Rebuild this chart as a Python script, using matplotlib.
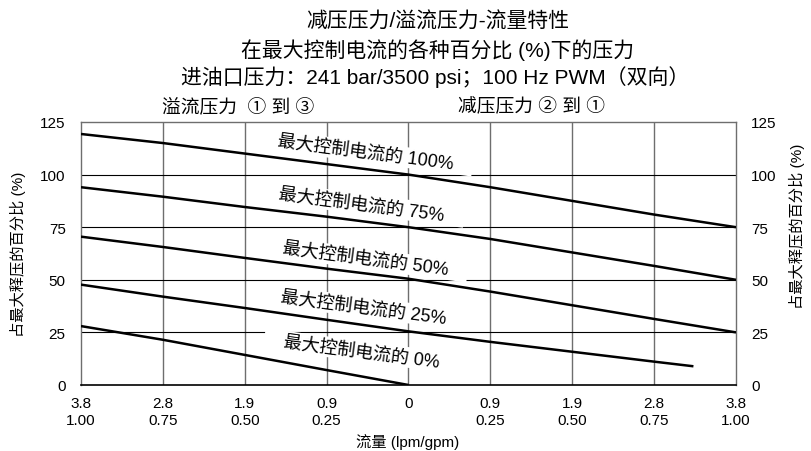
import matplotlib
matplotlib.use('Agg')
import matplotlib.pyplot as plt

plt.rcParams['font.family'] = ['Liberation Sans', 'Noto Sans CJK SC', 'DejaVu Sans']

# 横轴：左侧为溢流（③方向），右侧为减压（①方向），0 在中间
x_pos = [-4, -3, -2, -1, 0, 1, 2, 3, 4]
x_labels = ['3.8\n1.00', '2.8\n0.75', '1.9\n0.50', '0.9\n0.25', '0',
            '0.9\n0.25', '1.9\n0.50', '2.8\n0.75', '3.8\n1.00']
y_ticks = [0, 25, 50, 75, 100, 125]

# 各控制电流百分比下的压力曲线（占最大释压的百分比）
x_100 = [-4, -3, -2, -1, 0, 1, 2, 3, 4]
p_100 = [119.3, 115, 110, 105, 100, 94, 87.5, 81, 75]
x_75 = [-4, -3, -2, -1, 0, 1, 2, 3, 4]
p_75 = [94, 89.5, 84.6, 80, 75, 69.4, 63, 56.6, 50]
x_50 = [-4, -3, -2, -1, 0, 1, 2, 3, 4]
p_50 = [70.5, 65.6, 60.4, 55.3, 50.5, 44.4, 37.9, 31.4, 25]
x_25 = [-4, -3, -2, -1, 0, 1, 2, 3, 3.48]
p_25 = [47.7, 42, 36.6, 31, 25.5, 20.5, 15.8, 11.1, 8.9]
x_0 = [-4, -3, -2, -1, 0]
p_0 = [28, 21.5, 14.3, 7.1, 0]

curves = [(x_100, p_100), (x_75, p_75), (x_50, p_50), (x_25, p_25), (x_0, p_0)]
curve_labels = ['最大控制电流的 100%', '最大控制电流的 75%', '最大控制电流的 50%',
                '最大控制电流的 25%', '最大控制电流的 0%']
label_xy = [(-0.53, 110.7), (-0.57, 86), (-0.53, 60), (-0.55, 37), (-0.57, 16)]

fig = plt.figure(figsize=(8.11, 4.52), dpi=100)
ax = fig.add_axes([81 / 811, 66 / 452, 655 / 811, 263 / 452])

# 网格：竖线灰色，横线黑色细线
for xv in x_pos[1:-1]:
    ax.axvline(xv, color='#6e6e6e', lw=1.0, zorder=1)
for yv in y_ticks[1:-1]:
    ax.axhline(yv, color='black', lw=0.8, zorder=1)

for (xs, ps) in curves:
    ax.plot(xs, ps, color='black', lw=1.8, zorder=4, solid_capstyle='butt')

# 曲线标注带白底，遮住下面的网格线
for txt, (lx, ly) in zip(curve_labels, label_xy):
    ax.text(lx, ly, '\u3000' + txt + '\u3000', rotation=-7.5, ha='center', va='center',
            fontsize=13, rotation_mode='anchor', zorder=3,
            bbox=dict(boxstyle='square,pad=0.1', fc='white', ec='none'))

ax.set_xlim(-4, 4)
ax.set_ylim(0, 125)
ax.set_xticks(x_pos)
ax.set_xticklabels(x_labels, fontsize=11, linespacing=1.3)
ax.set_yticks(y_ticks)
ax.tick_params(axis='both', length=0, labelsize=11)
ax.tick_params(axis='x', pad=8)
ax.tick_params(axis='y', pad=11, labelright=True)

for side in ['left', 'top', 'right']:
    ax.spines[side].set_color('#6e6e6e')
    ax.spines[side].set_linewidth(1.0)
ax.spines['bottom'].set_color('black')
ax.spines['bottom'].set_linewidth(1.2)

fig.text(408 / 811, 1 - 442 / 452, '流量 (lpm/gpm)', ha='center', va='center', fontsize=11)
ax.set_ylabel('占最大释压的百分比 (%)', fontsize=11, labelpad=10)
fig.text(797 / 811, 1 - 226 / 452, '占最大释压的百分比 (%)', rotation=90,
         ha='center', va='center', fontsize=11)

# 标题三行
fig.text(438 / 811, 1 - 22 / 452, '减压压力/溢流压力-流量特性', ha='center', va='center', fontsize=15)
fig.text(438 / 811, 1 - 50 / 452, '在最大控制电流的各种百分比 (%)下的压力', ha='center', va='center', fontsize=15)
fig.text(435 / 811, 1 - 77 / 452, '进油口压力：241 bar/3500 psi；100 Hz PWM（双向）',
         ha='center', va='center', fontsize=15)

fig.text(238 / 811, 1 - 107 / 452, '溢流压力  ① 到 ③', ha='center', va='center', fontsize=13.5)
fig.text(532 / 811, 1 - 107 / 452, '减压压力 ② 到 ①', ha='center', va='center', fontsize=13.5)

fig.savefig('out.png', dpi=100)
